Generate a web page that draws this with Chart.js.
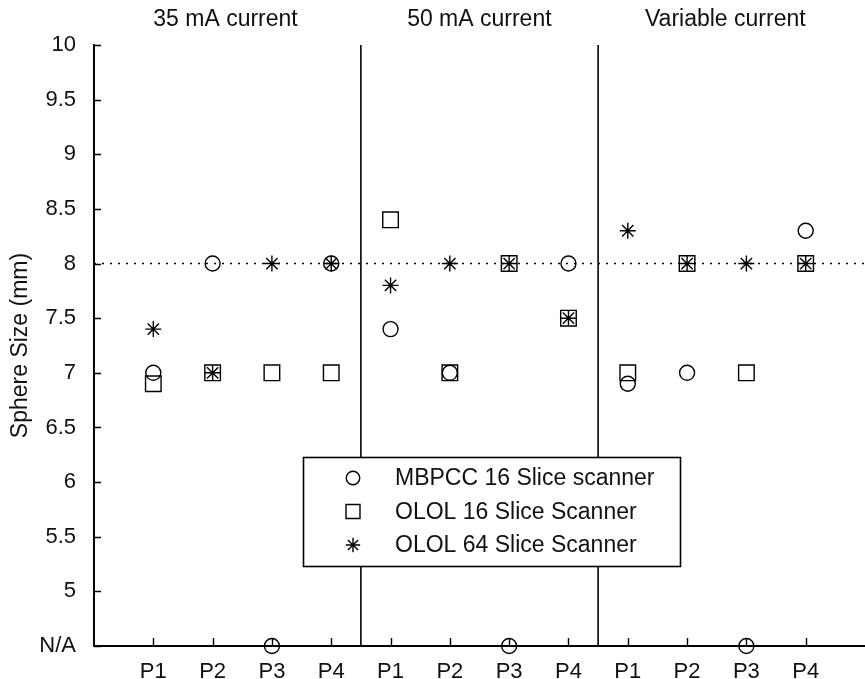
<!DOCTYPE html>
<html>
<head>
<meta charset="utf-8">
<script src="https://cdn.jsdelivr.net/npm/chart.js@4.4.1/dist/chart.umd.min.js"></script>
<style>
  html, body { margin: 0; padding: 0; background: #fff; overflow: hidden; }
  canvas { display: block; }
</style>
</head>
<body>
<canvas id="chart" width="865" height="679"></canvas>
<script>
// data (N/A plotted at the bottom of the axis)
const NA = 4.5;
const categories = ['P1', 'P2', 'P3', 'P4', 'P1', 'P2', 'P3', 'P4', 'P1', 'P2', 'P3', 'P4'];
const groupLabels = ['35 mA current', '50 mA current', 'Variable current'];
const seriesNames = ['MBPCC 16 Slice scanner', 'OLOL 16 Slice Scanner', 'OLOL 64 Slice Scanner'];
const mbpcc  = [7.0, 8.0, NA, 8.0, 7.4, 7.0, NA, 8.0, 6.9, 7.0, NA, 8.3];
const olol16 = [6.9, 7.0, 7.0, 7.0, 8.4, 7.0, 8.0, 7.5, 7.0, 8.0, 7.0, 8.0];
const olol64 = [7.4, 7.0, 8.0, 8.0, 7.8, 8.0, 8.0, 7.5, 8.3, 8.0, 8.0, 8.0];
const yTickValues = [4.5, 5, 5.5, 6, 6.5, 7, 7.5, 8, 8.5, 9, 9.5, 10];
const yTickLabels = ['N/A', '5', '5.5', '6', '6.5', '7', '7.5', '8', '8.5', '9', '9.5', '10'];
const reference = 8; // dotted line

const FONT = '"Liberation Sans", Arial, sans-serif';
const TEXT = '#111';

// x position of each point = its index in categories (1-based)
function toPoints(values) {
    return values.map((v, i) => ({ x: i + 1, y: v }));
}

// group boundaries sit halfway between P4 and the next P1
const bounds = [];
for (let i = 4; i < categories.length; i += 4) bounds.push(i + 0.5);

const markerStyle = [
    { pointStyle: 'circle', radius: 7.5 },
    { pointStyle: 'rect', radius: 11 },
    { pointStyle: 'star', radius: 8 }
];

const series = [mbpcc, olol16, olol64].map((vals, i) => ({
    label: seriesNames[i],
    data: toPoints(vals),
    showLine: false,
    pointStyle: markerStyle[i].pointStyle,
    pointRadius: markerStyle[i].radius,
    pointHoverRadius: markerStyle[i].radius,
    pointBorderColor: '#000',
    pointBackgroundColor: 'rgba(0,0,0,0)',
    pointBorderWidth: 1.4,
    clip: false
}));

const lines = bounds.map(b => ({
    type: 'line',
    data: [{ x: b, y: yTickValues[0] }, { x: b, y: yTickValues[yTickValues.length - 1] }],
    borderColor: '#000',
    borderWidth: 1.6,
    pointRadius: 0
}));

lines.push({
    type: 'line',
    data: [{ x: 0, y: reference }, { x: categories.length + 1, y: reference }],
    borderColor: '#000',
    borderWidth: 1.6,
    borderDash: [2, 6],
    pointRadius: 0
});

// inner ticks, group titles and the boxed legend
const decorations = {
    id: 'decorations',
    afterDraw(chart) {
        const { ctx, chartArea, scales: { x, y } } = chart;
        ctx.save();
        ctx.strokeStyle = '#000';
        ctx.lineWidth = 1.4;
        ctx.beginPath();
        y.ticks.forEach(t => {
            const py = Math.round(y.getPixelForValue(t.value)) + 0.5;
            ctx.moveTo(chartArea.left, py);
            ctx.lineTo(chartArea.left + 7, py);
        });
        x.ticks.forEach(t => {
            const px = Math.round(x.getPixelForValue(t.value)) + 0.5;
            ctx.moveTo(px, chartArea.bottom);
            ctx.lineTo(px, chartArea.bottom - 8);
        });
        ctx.stroke();

        // titles over each group
        ctx.fillStyle = TEXT;
        ctx.font = '23px ' + FONT;
        ctx.textBaseline = 'middle';
        ctx.textAlign = 'left';
        const titleX = [1.0, 5.28, 9.29];
        groupLabels.forEach((g, i) => {
            ctx.fillText(g, x.getPixelForValue(titleX[i]), 20);
        });

        // legend
        const lg = { left: 303, top: 457, width: 377, height: 109 };
        ctx.fillStyle = '#fff';
        ctx.fillRect(lg.left, lg.top, lg.width, lg.height);
        ctx.lineWidth = 1.6;
        ctx.strokeRect(lg.left + 0.5, lg.top + 0.5, lg.width, lg.height);
        seriesNames.forEach((name, i) => {
            const rowY = lg.top + 21 + i * 33.5;
            ctx.strokeStyle = '#000';
            ctx.fillStyle = 'rgba(0,0,0,0)';
            ctx.lineWidth = 1.4;
            Chart.helpers.drawPoint(ctx, {
                pointStyle: markerStyle[i].pointStyle,
                radius: markerStyle[i].radius * 0.9,
                borderWidth: 1.4,
                rotation: 0
            }, lg.left + 50, rowY);
            ctx.fillStyle = TEXT;
            ctx.textAlign = 'left';
            ctx.fillText(name, lg.left + 92, rowY + 1);
        });
        ctx.restore();
    }
};

new Chart(document.getElementById('chart'), {
    type: 'scatter',
    data: { datasets: [...series, ...lines] },
    options: {
        responsive: false,
        animation: false,
        events: [],
        layout: { autoPadding: false, padding: { top: 45, right: 0, left: 0, bottom: 0 } },
        plugins: {
            legend: { display: false },
            tooltip: { enabled: false }
        },
        scales: {
            x: {
                type: 'linear',
                min: 0,
                max: categories.length + 1,
                grid: { display: false },
                border: { display: true, color: '#000', width: 2 },
                afterBuildTicks: scale => {
                    scale.ticks = categories.map((c, i) => ({ value: i + 1 }));
                },
                afterFit: scale => {
                    scale.height = 33;
                    scale.paddingLeft = 0;
                    scale.paddingRight = 0;
                },
                ticks: {
                    autoSkip: false,
                    maxRotation: 0,
                    padding: 5,
                    color: TEXT,
                    font: { family: FONT, size: 22 },
                    callback: v => categories[v - 1]
                }
            },
            y: {
                type: 'linear',
                min: yTickValues[0],
                max: yTickValues[yTickValues.length - 1],
                grid: { display: false },
                border: { display: true, color: '#000', width: 2 },
                afterBuildTicks: scale => {
                    scale.ticks = yTickValues.map(v => ({ value: v }));
                },
                afterFit: scale => { scale.width = 94; },
                title: {
                    display: true,
                    text: 'Sphere Size (mm)',
                    color: TEXT,
                    font: { family: FONT, size: 23 },
                    padding: { top: 7, bottom: 0 }
                },
                ticks: {
                    padding: 10,
                    color: TEXT,
                    font: { family: FONT, size: 22 },
                    callback: v => yTickLabels[yTickValues.indexOf(v)]
                }
            }
        }
    },
    plugins: [decorations]
});
</script>
</body>
</html>
